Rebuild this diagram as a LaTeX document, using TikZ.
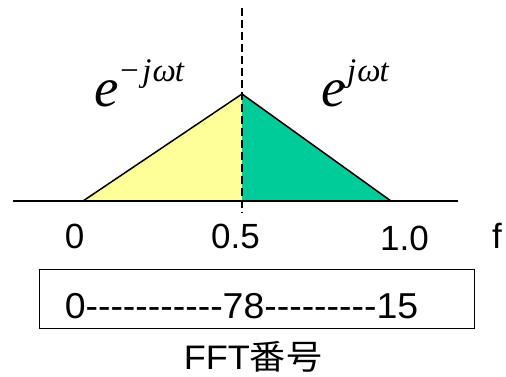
\documentclass[tikz,border=0pt]{standalone}
\usepackage{fontspec}
\setmainfont{Liberation Sans}[Ligatures=TeXOff]
\newfontfamily\tms{Liberation Serif}
\newfontfamily\cjk{Noto Sans CJK JP}
\definecolor{yel}{HTML}{FFFF99}
\definecolor{grn}{HTML}{00CC99}
\tikzset{
  lbl/.style={inner sep=0pt, anchor=base, font=\fontsize{35}{37}\selectfont},
  bigE/.style={inner sep=0pt, anchor=base west, font=\tms\itshape\fontsize{55}{57}\selectfont},
  supE/.style={inner sep=0pt, anchor=base west, font=\tms\itshape\fontsize{33}{35}\selectfont},
  edge/.style={line width=1.5pt, line join=miter},
}
\begin{document}
\begin{tikzpicture}[x=1pt,y=-1pt]
\useasboundingbox (0,0) rectangle (506,377);
\coordinate (L) at (83,201);
\coordinate (A) at (242,94);
\coordinate (R) at (391,201);
\coordinate (B) at (242,201);
\coordinate (ax0) at (13,201);
\coordinate (ax1) at (458,201);
\coordinate (d0) at (242,8);
\coordinate (d1) at (242,213);
\fill[yel] (L) -- (A) -- (B) -- cycle;
\fill[grn] (B) -- (A) -- (R) -- cycle;
\draw[edge] (ax0) -- (ax1);
\draw[edge] (L) -- (A) -- (R);
\draw[line width=1.5pt, dash pattern=on 8pt off 4pt] (d0) -- (d1);
% exponent labels
\node[bigE] (e1) at (94,107) {e};
\node[supE] (s1) at (118,82) {−\kern2pt j\kern1pt ω\kern-1pt t};
\node[bigE] (e2) at (321,107) {e};
\node[supE] (s2) at (347,82) {j\kern1pt ω\kern-1pt t};
% axis labels
\node[lbl] (n0) at (74.5,248) {0};
\node[lbl] (n05) at (235.5,248) {0.5};
\node[lbl] (n10) at (404.5,250) {1.0};
\node[inner sep=0pt, anchor=base west, font=\fontsize{35}{37}\selectfont] (f) at (492,248) {f};
% box
\draw[line width=1pt] (39,269) rectangle (474,328);
\node[inner sep=0pt, anchor=base, font=\fontsize{36}{38}\selectfont] (bt) at (241.5,318) {\scalebox{1.04}[1]{0-----------78---------15}};
\node[inner sep=0pt, anchor=base, font=\fontsize{34}{36}\selectfont] (fft) at (253,369) {\scalebox{1.06}[1]{FFT{\cjk 番号}}};
\end{tikzpicture}
\end{document}
